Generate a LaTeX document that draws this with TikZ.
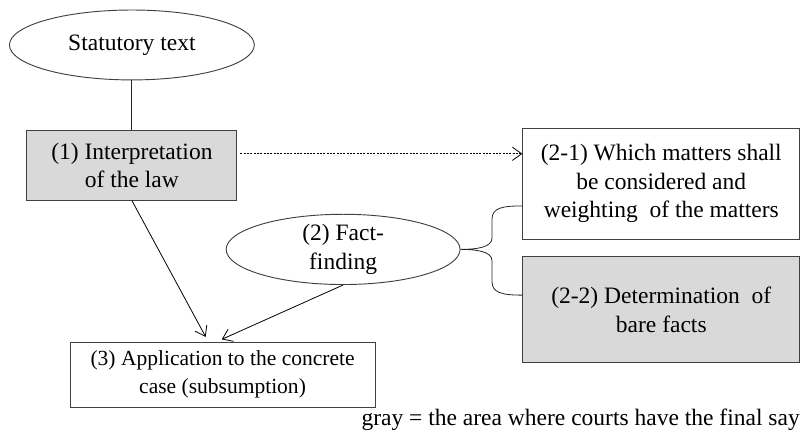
\documentclass[tikz,border=0pt]{standalone}
\usepackage{fontspec}
\setmainfont{Liberation Serif}
\usetikzlibrary{
	arrows.meta,
	positioning,
	calc,
	shapes.geometric
}

\begin{document}
\begin{tikzpicture}[
		font=\fontsize{17.7}{21.3}\selectfont,
		box/.style={draw=black!75, rectangle, line width=0.7pt, align=center, inner sep=0pt},
		grayfill/.style={fill=black!15},
		oval/.style={draw=black!75, ellipse, line width=0.7pt, align=center, inner sep=0pt, minimum width=6.3cm, minimum height=1.85cm},
		arrow/.style={-{Straight Barb[length=7pt,width=10pt]}, line width=0.6pt, shorten >=4pt},
		link/.style={line width=0.6pt, draw=black!85}
		]
		\useasboundingbox (0,0) rectangle (21.25,-11.46);
		
		% Left column
		\node[oval, minimum width=6.48cm] (statute) at (3.49,-1.19) {Statutory text};
		\node[box, grayfill, minimum width=5.56cm, minimum height=1.85cm] (interp) at (3.49,-4.37) {(1) Interpretation\\ of the law};
		\node[box, minimum width=8.07cm, minimum height=1.72cm, font=\fontsize{16.2}{21.3}\selectfont] (apply) at (5.89,-9.91) {(3) Application to the concrete\\ case (subsumption)};
		
		% Fact-finding
		\node[oval, minimum width=6.19cm] (fact) at (9.08,-6.6) {(2) Fact-\\finding};
		
		% Right column
		\node[box, minimum width=7.33cm, minimum height=2.94cm] (matters) at (17.50,-4.86) {(2-1) Which matters shall\\ be considered and\\ weighting\ \ of the matters};
		\node[box, grayfill, minimum width=7.33cm, minimum height=2.80cm] (bare) at (17.50,-8.20) {(2-2) Determination\ \ of\\ bare facts};
		
		% Legend
		\node[anchor=east, inner sep=0pt] (legend) at (21.17,-11.11) {gray = the area where courts have the final say};
		
		% Connectors
		\draw[link] (statute) -- (interp);
		\draw[arrow] (interp.south) -- ([xshift=-0.38cm]apply.north);
		\draw[arrow] (fact.south) -- ([xshift=-0.15cm]apply.north);
		\coordinate (dotstart) at ([yshift=0.3cm, xshift=0.08cm]interp.east);
		\draw[arrow, dash pattern=on 1.5pt off 1pt, shorten >=0pt] (dotstart) -- (dotstart -| matters.west);
		
		% Brace
		\coordinate (bracetop) at (13.81,-5.45);
		\coordinate (bracebot) at (13.81,-7.81);
		\draw[link] (bracetop) .. controls (13.3,-5.45) and (13.02,-5.5) .. (13.02,-5.8)
			-- (13.02,-6.3)
			.. controls (13.02,-6.55) and (12.6,-6.6) .. (fact.east)
			.. controls (12.6,-6.6) and (13.02,-6.65) .. (13.02,-6.9)
			-- (13.02,-7.45)
			.. controls (13.02,-7.75) and (13.3,-7.81) .. (bracebot);
		
	\end{tikzpicture}
\end{document}
